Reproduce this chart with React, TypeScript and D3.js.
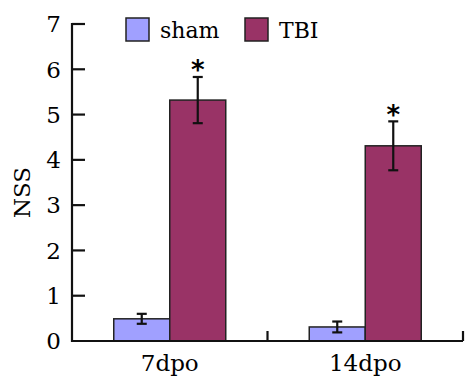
import React, { useEffect, useRef } from 'react';
import * as d3 from 'd3';

const categories = ['7dpo', '14dpo'];
const groups = ['sham', 'TBI'];
const shamValues = [0.49, 0.31];
const shamErrors = [0.11, 0.12];
const tbiValues = [5.32, 4.31];
const tbiErrors = [0.51, 0.54];
const significant = [true, true];
const yTicks = [0, 1, 2, 3, 4, 5, 6, 7];
const colors = ['#a0a0ff', '#993366'];

const W = 465, H = 376;
const SERIF = "'DejaVu Serif', 'Liberation Serif', serif";

export default function App() {
  const ref = useRef<SVGSVGElement>(null);

  useEffect(() => {
    const svg = d3.select(ref.current);
    svg.selectAll('*').remove();

    const margin = { top: 24, right: 2, bottom: 35, left: 72 };
    const x0 = d3.scaleBand().domain(categories).range([margin.left, W - margin.right]);
    const x1 = d3.scaleBand().domain(groups).range([0, 112]);
    const y = d3.scaleLinear().domain([0, 7]).range([H - margin.bottom, margin.top]);

    const series = [
      { name: 'sham', values: shamValues, errors: shamErrors },
      { name: 'TBI', values: tbiValues, errors: tbiErrors },
    ];

    const g = svg.append('g');

    series.forEach((s, si) => {
      categories.forEach((c, ci) => {
        const bx = x0(c)! + x0.bandwidth() / 2 - 56 + x1(s.name)!;
        const bw = x1.bandwidth();
        g.append('rect')
          .attr('x', bx)
          .attr('y', y(s.values[ci]))
          .attr('width', bw)
          .attr('height', y(0) - y(s.values[ci]))
          .attr('fill', colors[si])
          .attr('stroke', '#222')
          .attr('stroke-width', 1.5);
        const cx = bx + bw / 2;
        const top = y(s.values[ci] + s.errors[ci]);
        const bot = y(s.values[ci] - s.errors[ci]);
        g.append('line').attr('x1', cx).attr('x2', cx).attr('y1', top).attr('y2', bot)
          .attr('stroke', '#111').attr('stroke-width', 2.2);
        [top, bot].forEach((yy) => {
          g.append('line').attr('x1', cx - 5).attr('x2', cx + 5).attr('y1', yy).attr('y2', yy)
            .attr('stroke', '#111').attr('stroke-width', 2.2);
        });
        if (s.name === 'TBI' && significant[ci]) {
          g.append('text')
            .attr('x', cx)
            .attr('y', top - 2)
            .attr('text-anchor', 'middle')
            .attr('font-family', 'DejaVu Sans, sans-serif')
            .attr('font-weight', 'bold')
            .attr('font-size', 26)
            .attr('dy', '0.55em')
            .attr('transform', `translate(0,-10)`)
            .text('*');
        }
      });
    });

    // y axis
    const axisColor = '#111';
    svg.append('line').attr('x1', margin.left).attr('x2', margin.left)
      .attr('y1', y(7) - 1).attr('y2', y(0) + 1).attr('stroke', axisColor).attr('stroke-width', 2.2);
    yTicks.forEach((t) => {
      if (t > 0) {
        svg.append('line').attr('x1', margin.left).attr('x2', margin.left + 13)
          .attr('y1', y(t)).attr('y2', y(t)).attr('stroke', axisColor).attr('stroke-width', 2.2);
      }
      svg.append('text')
        .attr('x', margin.left - 11)
        .attr('y', y(t))
        .attr('dy', '0.36em')
        .attr('text-anchor', 'end')
        .attr('font-family', SERIF)
        .attr('font-size', 23)
        .text(t);
    });

    // x axis
    svg.append('line').attr('x1', margin.left).attr('x2', W - margin.right)
      .attr('y1', y(0)).attr('y2', y(0)).attr('stroke', axisColor).attr('stroke-width', 2.2);
    categories.forEach((c) => {
      const right = x0(c)! + x0.bandwidth();
      svg.append('line').attr('x1', right).attr('x2', right)
        .attr('y1', y(0)).attr('y2', y(0) - 10).attr('stroke', axisColor).attr('stroke-width', 2.2);
      svg.append('text')
        .attr('x', x0(c)! + x0.bandwidth() / 2)
        .attr('y', H - 5)
        .attr('text-anchor', 'middle')
        .attr('font-family', SERIF)
        .attr('font-size', 23)
        .text(c);
    });

    // y label
    svg.append('text')
      .attr('transform', `translate(30,${(y(0) + y(7)) / 2 + 10}) rotate(-90)`)
      .attr('text-anchor', 'middle')
      .attr('font-family', SERIF)
      .attr('font-size', 23)
      .text('NSS');

    // legend
    const legendX = [126, 245];
    groups.forEach((name, i) => {
      svg.append('rect').attr('x', legendX[i]).attr('y', 18).attr('width', 23).attr('height', 23)
        .attr('fill', colors[i]).attr('stroke', '#222').attr('stroke-width', 1.5);
      svg.append('text')
        .attr('x', legendX[i] + 34)
        .attr('y', 30)
        .attr('dy', '0.36em')
        .attr('font-family', SERIF)
        .attr('font-size', 22)
        .text(name);
    });
  }, []);

  return (
    <svg ref={ref} width={W} height={H}
      style={{ position: 'absolute', left: 0, top: 0, background: '#fff', display: 'block' }} />
  );
}
